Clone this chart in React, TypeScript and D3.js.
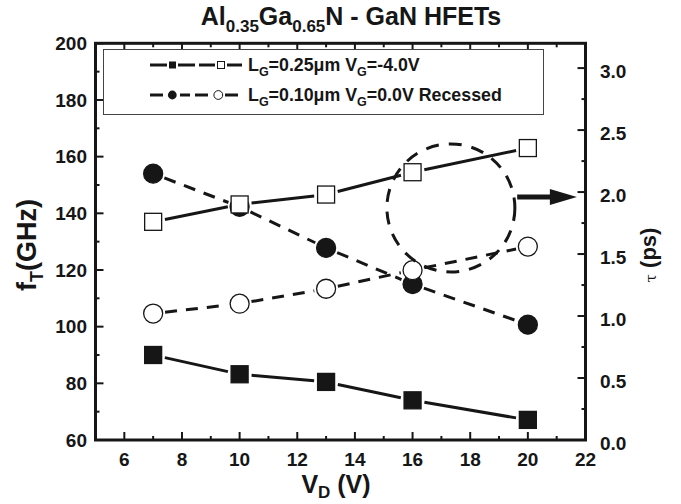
import React from "react";
import * as d3 from "d3";

// ---- data ----
const VD = [7, 10, 13, 16, 20];
const fT_LG025 = [90, 83.2, 80.5, 74, 67.1]; // filled squares, left axis
const tau_LG025 = [1.76, 1.9, 1.98, 2.16, 2.355]; // open squares, right axis
const fT_LG010 = [154, 142.3, 127.8, 115, 100.7]; // filled circles, left axis
const tau_LG010 = [1.02, 1.1, 1.22, 1.37, 1.56]; // open circles, right axis

const xTicks = [6, 8, 10, 12, 14, 16, 18, 20, 22];
const xMinor = [7, 9, 11, 13, 15, 17, 19, 21];
const yLTicks = [60, 80, 100, 120, 140, 160, 180, 200];
const yLMinor = [70, 90, 110, 130, 150, 170, 190];
const yRTicks = [0, 0.5, 1.0, 1.5, 2.0, 2.5, 3.0];
const yRMinor = [0.25, 0.75, 1.25, 1.75, 2.25, 2.75];

// annotation (ellipse around fT/tau crossing + arrow to right axis)
const ellipseCenter = { vd: 17.33, fT: 141.9 };
const ellipseRadius = { vd: 2.22, fT: 22.6 };
const arrowFrom = { vd: 19.63, tau: 1.96 };
const arrowTo = { vd: 21.7, tau: 1.96 };

const INK = "#161616";
const FONT = "'Liberation Sans', Arial, Helvetica, sans-serif";

const W = 681;
const H = 504;
const L = 95.5, R = 585.5, T = 43.3, B = 440;

const x = d3.scaleLinear().domain([5, 22]).range([L, R]);
const yL = d3.scaleLinear().domain([60, 200]).range([B, T]);
const yR = d3.scaleLinear().domain([0, 3.2]).range([B, T]);

type Pt = [number, number];

function segments(pts: Pt[], gap: number): Pt[][] {
  const out: Pt[][] = [];
  for (let i = 0; i < pts.length - 1; i++) {
    const [x1, y1] = pts[i];
    const [x2, y2] = pts[i + 1];
    const dx = x2 - x1, dy = y2 - y1;
    const len = Math.hypot(dx, dy);
    if (len <= 2 * gap) continue;
    const ux = dx / len, uy = dy / len;
    out.push([
      [x1 + ux * gap, y1 + uy * gap],
      [x2 - ux * gap, y2 - uy * gap],
    ]);
  }
  return out;
}

const line = d3.line<Pt>().x((d) => d[0]).y((d) => d[1]);

function Series({
  pts,
  dashed,
  shape,
  filled,
}: {
  pts: Pt[];
  dashed: boolean;
  shape: "square" | "circle";
  filled: boolean;
}) {
  const gap = 12;
  return (
    <g>
      {segments(pts, gap).map((s, i) => (
        <path
          key={i}
          d={line(s) || ""}
          stroke={INK}
          strokeWidth={3}
          fill="none"
          strokeDasharray={dashed ? "12,9" : undefined}
        />
      ))}
      {pts.map(([px, py], i) =>
        shape === "square" ? (
          <rect
            key={"m" + i}
            x={px - 8.5}
            y={py - 8.5}
            width={17}
            height={17}
            fill={filled ? INK : "#fff"}
            stroke={INK}
            strokeWidth={1.3}
          />
        ) : (
          <circle
            key={"m" + i}
            cx={px}
            cy={py}
            r={9.5}
            fill={filled ? INK : "#fff"}
            stroke={INK}
            strokeWidth={1.3}
          />
        )
      )}
    </g>
  );
}

export default function App() {
  const ptsFS: Pt[] = VD.map((v, i) => [x(v), yL(fT_LG025[i])]);
  const ptsOS: Pt[] = VD.map((v, i) => [x(v), yR(tau_LG025[i])]);
  const ptsFC: Pt[] = VD.map((v, i) => [x(v), yL(fT_LG010[i])]);
  const ptsOC: Pt[] = VD.map((v, i) => [x(v), yR(tau_LG010[i])]);

  const ecx = x(ellipseCenter.vd);
  const ecy = yL(ellipseCenter.fT);
  const erx = x(ellipseCenter.vd + ellipseRadius.vd) - ecx;
  const ery = ecy - yL(ellipseCenter.fT + ellipseRadius.fT);

  const ax1 = x(arrowFrom.vd), ay = yR(arrowFrom.tau);
  const ax2 = x(arrowTo.vd);
  const headLen = 27;

  const tickMaj = 8, tickMin = 4;

  return (
    <svg
      width={W}
      height={H}
      style={{ position: "absolute", left: 0, top: 0, background: "#fff" }}
      fontFamily={FONT}
    >
      <rect x={0} y={0} width={W} height={H} fill="#fff" />

      {/* title */}
      <text x={351} y={25} textAnchor="middle" fontSize={25} fontWeight="bold" fill={INK}>
        Al<tspan fontSize={17} dy={7}>0.35</tspan>
        <tspan dy={-7}>Ga</tspan>
        <tspan fontSize={17} dy={7}>0.65</tspan>
        <tspan dy={-7}>N - GaN HFETs</tspan>
      </text>

      {/* ticks */}
      <g stroke={INK} strokeWidth={2}>
        {xTicks.map((t) => (
          <g key={"xt" + t}>
            <line x1={x(t)} x2={x(t)} y1={B} y2={B - tickMaj} />
            <line x1={x(t)} x2={x(t)} y1={T} y2={T + tickMaj} />
          </g>
        ))}
        {xMinor.map((t) => (
          <g key={"xm" + t}>
            <line x1={x(t)} x2={x(t)} y1={B} y2={B - tickMin} />
            <line x1={x(t)} x2={x(t)} y1={T} y2={T + tickMin} />
          </g>
        ))}
        {yLTicks.map((t) => (
          <line key={"yl" + t} x1={L} x2={L + tickMaj} y1={yL(t)} y2={yL(t)} />
        ))}
        {yLMinor.map((t) => (
          <line key={"ylm" + t} x1={L} x2={L + tickMin} y1={yL(t)} y2={yL(t)} />
        ))}
        {yRTicks.map((t) => (
          <line key={"yr" + t} x1={R} x2={R - tickMaj} y1={yR(t)} y2={yR(t)} />
        ))}
        {yRMinor.map((t) => (
          <line key={"yrm" + t} x1={R} x2={R - tickMin} y1={yR(t)} y2={yR(t)} />
        ))}
      </g>

      {/* tick labels */}
      <g fontSize={19} fontWeight="bold" fill={INK}>
        {xTicks.map((t) => (
          <text key={"xl" + t} x={x(t)} y={466} textAnchor="middle">
            {t}
          </text>
        ))}
        {yLTicks.map((t) => (
          <text key={"yll" + t} x={87} y={yL(t)} dy="0.36em" textAnchor="end">
            {t}
          </text>
        ))}
        {yRTicks.map((t) => (
          <text key={"yrl" + t} x={600} y={yR(t) + 3} dy="0.36em" textAnchor="start">
            {t.toFixed(1)}
          </text>
        ))}
      </g>

      {/* axis titles */}
      <text x={336} y={493} textAnchor="middle" fontSize={25} fontWeight="bold" fill={INK}>
        V<tspan fontSize={17} dy={5}>D</tspan>
        <tspan dy={-5}> (V)</tspan>
      </text>
      <text
        transform="translate(36,245) rotate(-90)"
        textAnchor="middle"
        fontSize={27}
        fontWeight="bold"
        fill={INK}
      >
        f<tspan fontSize={18} dy={7}>T</tspan>
        <tspan dy={-7}>(GHz)</tspan>
      </text>
      <text
        transform="translate(656,255) rotate(-90)"
        textAnchor="middle"
        fill={INK}
      >
        <tspan fontSize={15} fontFamily="'DejaVu Serif', serif">τ</tspan>
        <tspan fontSize={22} fontWeight="bold"> (ps)</tspan>
      </text>

      {/* legend */}
      <rect x={103.5} y={49.5} width={440} height={65} fill="#fff" stroke="#444" strokeWidth={1} />
      <g stroke={INK} strokeWidth={3}>
        <line x1={150} x2={167} y1={65} y2={65} />
        <line x1={178} x2={195} y1={65} y2={65} />
        <line x1={199} x2={215} y1={65} y2={65} />
        <line x1={227} x2={242} y1={65} y2={65} />
        <line x1={150} x2={163} y1={95} y2={95} />
        <line x1={180} x2={190} y1={95} y2={95} />
        <line x1={195} x2={208} y1={95} y2={95} />
        <line x1={225} x2={238} y1={95} y2={95} />
      </g>
      <rect x={169} y={61.5} width={7} height={7} fill={INK} />
      <rect x={217.5} y={61.5} width={7} height={7} fill="#fff" stroke={INK} strokeWidth={1} />
      <circle cx={172.3} cy={95} r={4.4} fill={INK} />
      <circle cx={218.3} cy={95} r={4.4} fill="#fff" stroke={INK} strokeWidth={1} />
      <g fontSize={17.8} fontWeight="bold" fill={INK}>
        <text x={248} y={71}>
          L<tspan fontSize={12.5} dy={5}>G</tspan>
          <tspan dy={-5}>=0.25μm V</tspan>
          <tspan fontSize={12.5} dy={5}>G</tspan>
          <tspan dy={-5}>=-4.0V</tspan>
        </text>
        <text x={248} y={101}>
          L<tspan fontSize={12.5} dy={5}>G</tspan>
          <tspan dy={-5}>=0.10μm V</tspan>
          <tspan fontSize={12.5} dy={5}>G</tspan>
          <tspan dy={-5}>=0.0V Recessed</tspan>
        </text>
      </g>

      {/* series */}
      <Series pts={ptsFS} dashed={false} shape="square" filled={true} />
      <Series pts={ptsFC} dashed={true} shape="circle" filled={true} />
      <Series pts={ptsOS} dashed={false} shape="square" filled={false} />
      <Series pts={ptsOC} dashed={true} shape="circle" filled={false} />

      {/* annotation */}
      <ellipse
        cx={ecx}
        cy={ecy}
        rx={erx}
        ry={ery}
        fill="none"
        stroke={INK}
        strokeWidth={3}
        strokeDasharray="13,10"
      />
      <line x1={ax1} x2={ax2 - headLen + 2} y1={ay} y2={ay} stroke={INK} strokeWidth={5} />
      <path
        d={`M${ax2},${ay} L${ax2 - headLen},${ay - 8} L${ax2 - headLen},${ay + 8} Z`}
        fill={INK}
      />

      {/* frame */}
      <rect x={L} y={T} width={R - L} height={B - T} fill="none" stroke={INK} strokeWidth={3} />
    </svg>
  );
}
